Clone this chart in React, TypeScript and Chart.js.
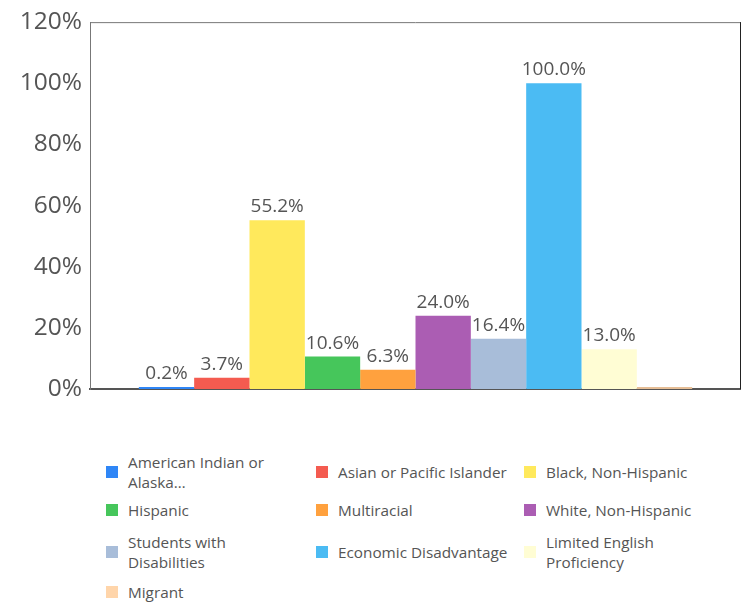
import React, { useEffect, useRef } from "react";
import { Chart, registerables } from "chart.js";

Chart.register(...registerables);

const seriesLabels = [
  "American Indian or Alaska…",
  "Asian or Pacific Islander",
  "Black, Non-Hispanic",
  "Hispanic",
  "Multiracial",
  "White, Non-Hispanic",
  "Students with Disabilities",
  "Economic Disadvantage",
  "Limited English Proficiency",
  "Migrant",
];
const seriesValues = [0.2, 3.7, 55.2, 10.6, 6.3, 24.0, 16.4, 100.0, 13.0, 0];
const seriesColors = [
  "#2F86F6",
  "#F45B50",
  "#FFE95C",
  "#46C65B",
  "#FFA13E",
  "#AB5DB3",
  "#A8BDD9",
  "#4BBBF3",
  "#FFFDD4",
  "#E6BE96",
];
const legendColors = [
  "#2F86F6",
  "#F45B50",
  "#FFE95C",
  "#46C65B",
  "#FFA13E",
  "#AB5DB3",
  "#A8BDD9",
  "#4BBBF3",
  "#FFFDD4",
  "#FFD5AA",
];
const yTicks = [0, 20, 40, 60, 80, 100, 120];

const FONT = "'Open Sans', sans-serif";

const labelPlugin = {
  id: "valueLabels",
  afterDatasetsDraw(chart: any) {
    const ctx = chart.ctx;
    ctx.save();
    ctx.font = `19px ${FONT}`;
    ctx.fillStyle = "#555";
    ctx.textAlign = "center";
    ctx.textBaseline = "alphabetic";
    chart.data.datasets.forEach((ds: any, i: number) => {
      const v = ds.data[0];
      if (!v) return;
      const el = chart.getDatasetMeta(i).data[0];
      ctx.fillText(`${v.toFixed(1)}%`, el.x, el.y - 8);
    });
    ctx.restore();
  },
};

const framePlugin = {
  id: "frame",
  afterDraw(chart: any) {
    const { ctx, chartArea: a } = chart;
    ctx.save();
    ctx.lineWidth = 1;
    ctx.strokeStyle = "#777";
    ctx.beginPath();
    ctx.moveTo(a.left, a.top + 0.5);
    ctx.lineTo(a.right, a.top + 0.5);
    ctx.stroke();
    ctx.strokeStyle = "#222";
    ctx.beginPath();
    ctx.moveTo(a.right - 0.5, a.top);
    ctx.lineTo(a.right - 0.5, a.bottom);
    ctx.stroke();
    ctx.restore();
  },
};

export default function App() {
  const ref = useRef<HTMLCanvasElement>(null);
  useEffect(() => {
    if (!ref.current) return;
    const chart = new Chart(ref.current, {
      type: "bar",
      data: {
        labels: [""],
        datasets: seriesLabels.map((l, i) => ({
          label: l,
          data: [seriesValues[i]],
          backgroundColor: seriesColors[i],
          minBarLength: 2,
        })),
      },
      options: {
        animation: false,
        responsive: false,
        layout: { padding: { top: 11, right: 1, left: 0, bottom: 0 } },
        plugins: { legend: { display: false }, tooltip: { enabled: false } },
        datasets: { bar: { categoryPercentage: 0.85, barPercentage: 1 } },
        scales: {
          x: {
            grid: { display: false, drawTicks: false },
            border: { display: true, color: "#555", width: 2 },
            ticks: { display: false },
            afterFit: (s: any) => {
              s.height = 19;
            },
          },
          y: {
            min: 0,
            max: 120,
            grid: { display: false, drawTicks: false },
            border: { display: true, color: "#777", width: 1 },
            afterBuildTicks: (s: any) => {
              s.ticks = yTicks.map((v) => ({ value: v }));
            },
            ticks: {
              padding: 8,
              color: "#555",
              font: { family: FONT, size: 24.5, lineHeight: 0.5 },
              callback: (v: any) => `${v}%`,
            },
            afterFit: (s: any) => {
              s.width = 82;
            },
          },
        },
      },
      plugins: [labelPlugin, framePlugin],
    });
    return () => chart.destroy();
  }, []);

  const colLeft = [98, 308, 516];
  const rowTop = [444, 482, 524, 564];
  return (
    <div style={{ position: "relative", width: 733, height: 595 }}>
      <canvas ref={ref} width={734} height={400} style={{ display: "block" }} />
      {seriesLabels.map((l, i) => {
        const row = Math.floor(i / 3);
        const col = i % 3;
        return (
          <div
            key={l}
            style={{
              position: "absolute",
              left: colLeft[col],
              top: rowTop[row],
              height: 40,
              display: "flex",
              alignItems: "center",
              fontFamily: FONT,
              fontSize: 15.3,
              lineHeight: "20px",
              color: "#555",
            }}
          >
            <span
              style={{
                width: 12,
                height: 12,
                background: legendColors[i],
                marginRight: 10,
                flex: "none",
              }}
            />
            <span style={{ width: 172 }}>{l}</span>
          </div>
        );
      })}
    </div>
  );
}
